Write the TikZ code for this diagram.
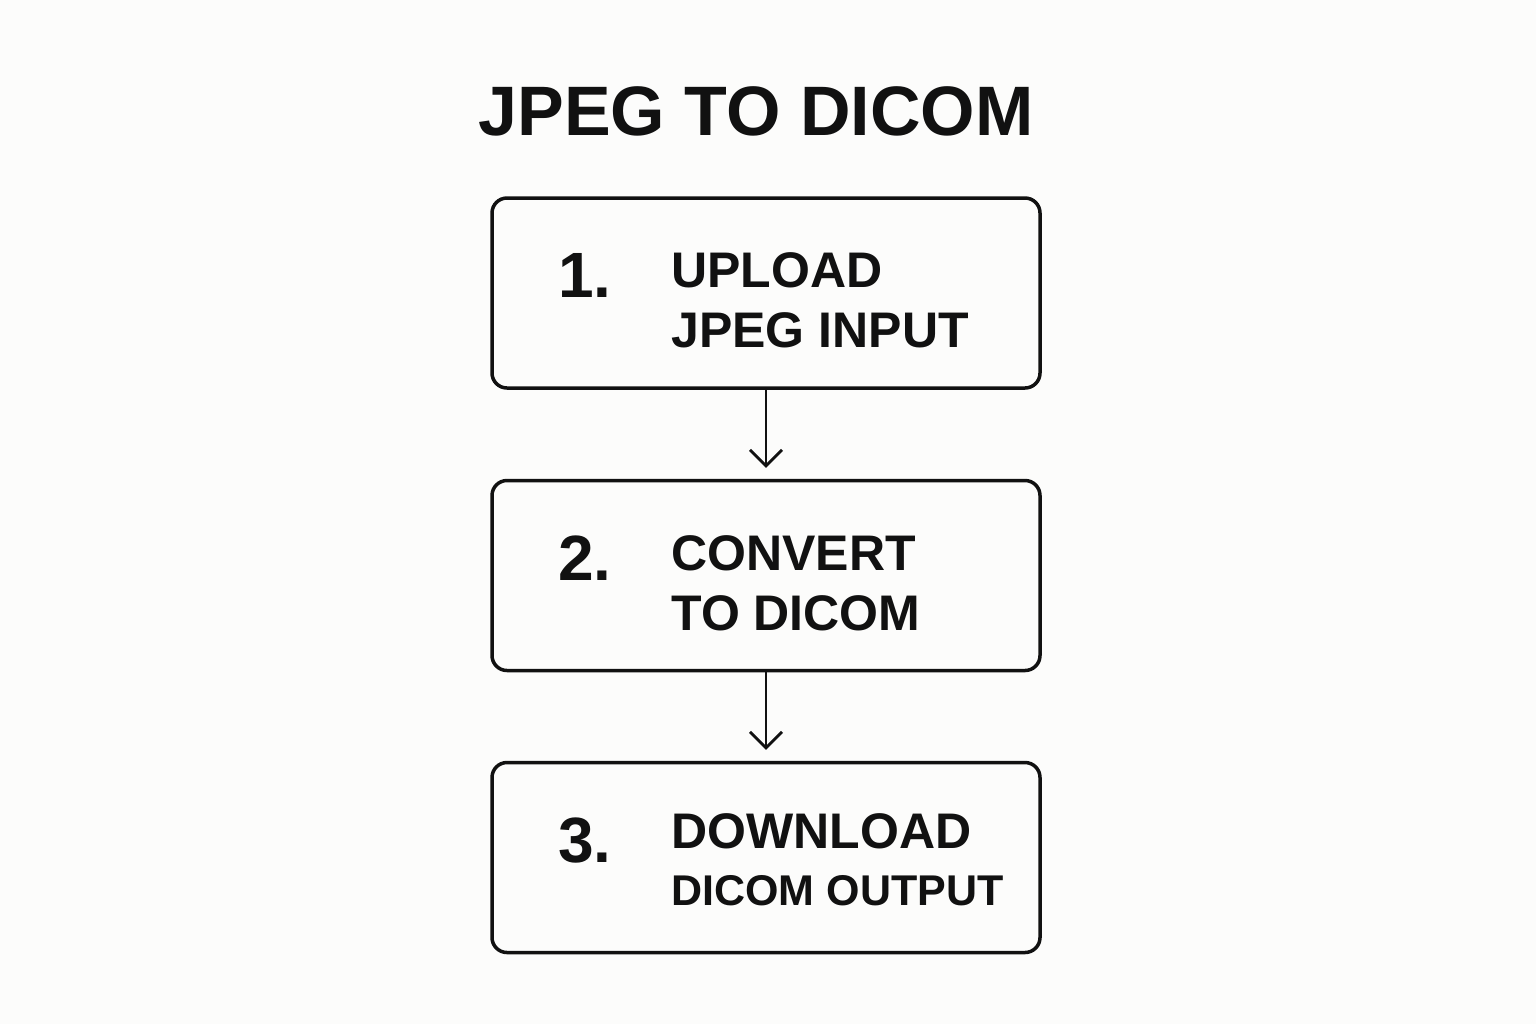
\documentclass[tikz,border=0pt]{standalone}
\usepackage{fontspec}
\setmainfont{Liberation Sans}
\usetikzlibrary{arrows.meta}
\definecolor{paper}{HTML}{FCFCFB}
\definecolor{ink}{HTML}{111111}

\begin{document}
\begin{tikzpicture}[x=0.5pt, y=-0.5pt,
    stepbox/.style ={draw=ink, line width=1.75pt, rounded corners=7.5pt,
                     minimum width=274pt, minimum height=95pt, inner sep=0pt},
    stepnum/.style ={anchor=base west, inner sep=0pt, text=ink,
                     font=\fontsize{32}{32}\selectfont\bfseries},
    steptext/.style={anchor=base west, inner sep=0pt, align=left, text=ink,
                     font=\fontsize{25}{30}\selectfont\bfseries},
    flow/.style    ={draw=ink, line width=1.4pt, shorten >=5.5pt,
                     -{Straight Barb[length=8pt, width=16pt, line width=1.4pt]}}]
   \fill[paper] (0,0) rectangle (1536,1024);
   \useasboundingbox (0,0) rectangle (1536,1024);

   \node[anchor=base, inner sep=0pt, text=ink, font=\fontsize{35}{35}\selectfont\bfseries]
        (title) at (756,135) {JPEG TO DICOM};

   \node[stepbox] (upload)   at (766,293)   {};
   \node[stepbox] (convert)  at (766,575.5) {};
   \node[stepbox] (download) at (766,857.5) {};

   \node[stepnum] (n1) at (558,297) {1.};
   \node[stepnum] (n2) at (558,580) {2.};
   \node[stepnum] (n3) at (558,862) {3.};

   \node[steptext] (t1) at (671,347) {UPLOAD\\JPEG INPUT};
   \node[steptext] (t2) at (671,630) {CONVERT\\TO DICOM};
   \node[steptext] (t3) at (671,905) {DOWNLOAD\\[-1.75pt]{\fontsize{21.5}{26.5}\selectfont DICOM OUTPUT}};

   \draw[flow] (upload)  -- (convert);
   \draw[flow] (convert) -- (download);
 \end{tikzpicture}
\end{document}
